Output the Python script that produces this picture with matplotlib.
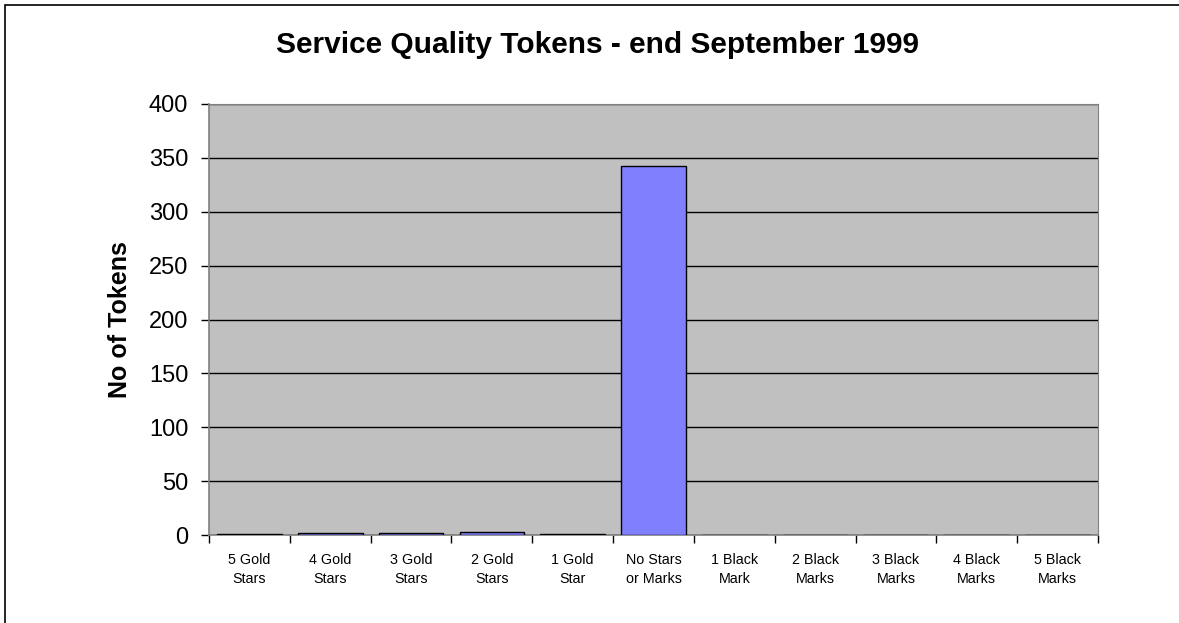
import numpy as np
import matplotlib
matplotlib.use("Agg")
from matplotlib import pyplot as plt
from matplotlib.patches import Rectangle

plt.rcParams['font.family'] = ['Liberation Sans', 'DejaVu Sans']

categories = ['5 Gold\nStars', '4 Gold\nStars', '3 Gold\nStars', '2 Gold\nStars',
              '1 Gold\nStar', 'No Stars\nor Marks', '1 Black\nMark', '2 Black\nMarks',
              '3 Black\nMarks', '4 Black\nMarks', '5 Black\nMarks']
tokens = [1, 2, 2, 3, 1, 342, 0, 0, 0, 0, 0]
yticks = [0, 50, 100, 150, 200, 250, 300, 350, 400]

fig = plt.figure(figsize=(11.79, 6.23), dpi=100)
fig.patch.set_facecolor('white')
# outer frame round the chart area
fig.add_artist(Rectangle((5 / 1179, -0.01), 1.02, 1 - 5 / 623 + 0.01,
                         transform=fig.transFigure, fill=False,
                         edgecolor='black', linewidth=1.2))

ax = fig.add_axes([209 / 1179, 88 / 623, 889 / 1179, 431 / 623])
ax.set_facecolor('#C0C0C0')

x = np.arange(len(categories))
ax.bar(x, tokens, width=0.8, color='#8080FF', edgecolor='black', linewidth=1, zorder=3)

ax.set_xlim(-0.5, len(categories) - 0.5)
ax.set_ylim(0, 400)
ax.set_yticks(yticks)
ax.yaxis.grid(True, color='black', linewidth=1, zorder=1)
ax.tick_params(axis='y', labelsize=17, direction='out', length=6, width=1, pad=9)

ax.set_xticks(x)
ax.set_xticklabels(categories, fontsize=10.3, linespacing=1.45)
ax.tick_params(axis='x', length=0, pad=13)
ax.set_xticks(np.arange(len(categories) + 1) - 0.5, minor=True)
ax.tick_params(axis='x', which='minor', direction='out', length=6, width=1)

for side in ['top', 'right']:
    ax.spines[side].set_color('#808080')
for side in ['left', 'bottom']:
    ax.spines[side].set_color('#808080')
    ax.spines[side].set_linewidth(1.2)

ax.set_ylabel('No of Tokens', fontsize=18, fontweight='bold', labelpad=12)
fig.text(598 / 1179, 1 - 45 / 623, 'Service Quality Tokens - end September 1999',
         ha='center', va='center', fontsize=21.5, fontweight='bold')

plt.savefig('out.png', dpi=100)
